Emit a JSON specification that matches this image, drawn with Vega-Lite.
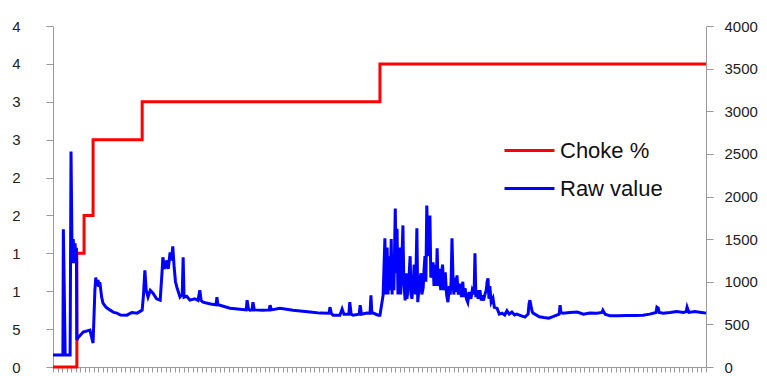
{
  "$schema": "https://vega.github.io/schema/vega-lite/v6.json",
  "width": 653,
  "height": 341,
  "autosize": {"type": "none"},
  "padding": {"left": 53, "top": 26, "right": 61, "bottom": 9},
  "background": "white",
  "config": {
    "view": {"stroke": null},
    "font": "Liberation Sans",
    "axis": {"grid": false, "domainColor": "#9a9a9a", "tickColor": "#9a9a9a", "labelColor": "#222222", "labelFont": "Liberation Sans", "labelFontSize": 15, "title": null}
  },
  "datasets": {
    "choke": [
      {"t": 0, "choke": 0},
      {"t": 53, "choke": 1.5},
      {"t": 69, "choke": 2},
      {"t": 89, "choke": 3},
      {"t": 198, "choke": 3.5},
      {"t": 726, "choke": 4},
      {"t": 1450, "choke": 4}
    ],
    "raw": [
      {"t": 0, "raw": 140}, {"t": 22, "raw": 140}, {"t": 23, "raw": 1615}, {"t": 25, "raw": 900}, {"t": 27, "raw": 140},
      {"t": 38, "raw": 140}, {"t": 40, "raw": 2527}, {"t": 42, "raw": 1500}, {"t": 44, "raw": 1217}, {"t": 45, "raw": 1500},
      {"t": 47, "raw": 1217}, {"t": 49, "raw": 1450}, {"t": 51, "raw": 1217}, {"t": 52, "raw": 1400}, {"t": 53, "raw": 316},
      {"t": 55, "raw": 340}, {"t": 67, "raw": 410}, {"t": 82, "raw": 433}, {"t": 89, "raw": 281}, {"t": 91, "raw": 585},
      {"t": 93, "raw": 900}, {"t": 95, "raw": 1050}, {"t": 97, "raw": 950}, {"t": 100, "raw": 1020}, {"t": 102, "raw": 940}, {"t": 104, "raw": 995}, {"t": 108, "raw": 820}, {"t": 111, "raw": 750},
      {"t": 118, "raw": 700}, {"t": 127, "raw": 667}, {"t": 135, "raw": 640}, {"t": 142, "raw": 632}, {"t": 150, "raw": 610}, {"t": 164, "raw": 608}, {"t": 175, "raw": 640}, {"t": 187, "raw": 632}, {"t": 198, "raw": 667},
      {"t": 201, "raw": 850}, {"t": 204, "raw": 1135}, {"t": 207, "raw": 900}, {"t": 211, "raw": 820}, {"t": 216, "raw": 900}, {"t": 222, "raw": 866}, {"t": 230, "raw": 800}, {"t": 238, "raw": 784}, {"t": 242, "raw": 1100}, {"t": 244, "raw": 1287},
      {"t": 248, "raw": 1150}, {"t": 253, "raw": 1250}, {"t": 256, "raw": 1150}, {"t": 260, "raw": 1345}, {"t": 263, "raw": 1250}, {"t": 266, "raw": 1416}, {"t": 269, "raw": 1170}, {"t": 272, "raw": 1000}, {"t": 275, "raw": 936},
      {"t": 282, "raw": 820}, {"t": 287, "raw": 850}, {"t": 289, "raw": 1287}, {"t": 291, "raw": 820}, {"t": 297, "raw": 830}, {"t": 304, "raw": 784}, {"t": 315, "raw": 800}, {"t": 322, "raw": 780}, {"t": 326, "raw": 900},
      {"t": 329, "raw": 780}, {"t": 333, "raw": 760}, {"t": 350, "raw": 740}, {"t": 362, "raw": 730}, {"t": 364, "raw": 820}, {"t": 366, "raw": 730}, {"t": 371, "raw": 725}, {"t": 393, "raw": 690}, {"t": 410, "raw": 680}, {"t": 429, "raw": 670}, {"t": 431, "raw": 784},
      {"t": 434, "raw": 680}, {"t": 437, "raw": 667}, {"t": 442, "raw": 670}, {"t": 444, "raw": 760}, {"t": 447, "raw": 670}, {"t": 466, "raw": 667}, {"t": 480, "raw": 670}, {"t": 482, "raw": 725}, {"t": 485, "raw": 670}, {"t": 504, "raw": 690},
      {"t": 533, "raw": 667}, {"t": 571, "raw": 644}, {"t": 593, "raw": 632}, {"t": 613, "raw": 630}, {"t": 615, "raw": 702}, {"t": 618, "raw": 630}, {"t": 622, "raw": 608},
      {"t": 637, "raw": 608}, {"t": 642, "raw": 680}, {"t": 646, "raw": 620}, {"t": 657, "raw": 620}, {"t": 659, "raw": 760}, {"t": 662, "raw": 620}, {"t": 666, "raw": 608}, {"t": 680, "raw": 620}, {"t": 682, "raw": 725}, {"t": 685, "raw": 620},
      {"t": 697, "raw": 632}, {"t": 704, "raw": 630}, {"t": 706, "raw": 842}, {"t": 708, "raw": 632}, {"t": 711, "raw": 632}, {"t": 722, "raw": 608}, {"t": 726, "raw": 608},
      {"t": 733, "raw": 842}, {"t": 737, "raw": 1509}, {"t": 739, "raw": 850}, {"t": 742, "raw": 1400}, {"t": 744, "raw": 850}, {"t": 746, "raw": 1300}, {"t": 749, "raw": 900}, {"t": 751, "raw": 1500}, {"t": 753, "raw": 850}, {"t": 755, "raw": 1300},
      {"t": 757, "raw": 900}, {"t": 760, "raw": 1860}, {"t": 762, "raw": 1100}, {"t": 764, "raw": 1620}, {"t": 766, "raw": 850}, {"t": 769, "raw": 1400}, {"t": 772, "raw": 850}, {"t": 775, "raw": 1300}, {"t": 777, "raw": 1661},
      {"t": 779, "raw": 1000}, {"t": 782, "raw": 780}, {"t": 784, "raw": 1100}, {"t": 786, "raw": 800}, {"t": 790, "raw": 1000}, {"t": 793, "raw": 1300}, {"t": 795, "raw": 850}, {"t": 797, "raw": 800}, {"t": 800, "raw": 1000}, {"t": 802, "raw": 1200},
      {"t": 805, "raw": 850}, {"t": 808, "raw": 1626}, {"t": 810, "raw": 760}, {"t": 813, "raw": 950}, {"t": 817, "raw": 1100}, {"t": 819, "raw": 850}, {"t": 822, "raw": 930}, {"t": 824, "raw": 1150}, {"t": 826, "raw": 1300},
      {"t": 828, "raw": 1000}, {"t": 830, "raw": 1895}, {"t": 833, "raw": 1300}, {"t": 835, "raw": 1500}, {"t": 837, "raw": 1778}, {"t": 839, "raw": 1050}, {"t": 842, "raw": 1100}, {"t": 844, "raw": 1228},
      {"t": 846, "raw": 950}, {"t": 848, "raw": 1200}, {"t": 851, "raw": 950}, {"t": 853, "raw": 1392}, {"t": 855, "raw": 950}, {"t": 858, "raw": 1150}, {"t": 861, "raw": 900}, {"t": 863, "raw": 1100}, {"t": 865, "raw": 1200},
      {"t": 868, "raw": 900}, {"t": 871, "raw": 1111}, {"t": 874, "raw": 850}, {"t": 877, "raw": 760}, {"t": 880, "raw": 950}, {"t": 882, "raw": 850}, {"t": 884, "raw": 1000}, {"t": 886, "raw": 1509}, {"t": 888, "raw": 1076},
      {"t": 890, "raw": 850}, {"t": 893, "raw": 1050}, {"t": 895, "raw": 880}, {"t": 897, "raw": 1076}, {"t": 900, "raw": 850}, {"t": 904, "raw": 978}, {"t": 907, "raw": 820}, {"t": 910, "raw": 1000}, {"t": 912, "raw": 820}, {"t": 915, "raw": 924},
      {"t": 918, "raw": 800}, {"t": 921, "raw": 760}, {"t": 924, "raw": 880}, {"t": 928, "raw": 800}, {"t": 931, "raw": 900}, {"t": 935, "raw": 850}, {"t": 937, "raw": 1334}, {"t": 939, "raw": 820}, {"t": 941, "raw": 900}, {"t": 944, "raw": 800}, {"t": 948, "raw": 900},
      {"t": 951, "raw": 780}, {"t": 953, "raw": 842}, {"t": 956, "raw": 780}, {"t": 959, "raw": 850}, {"t": 962, "raw": 900}, {"t": 964, "raw": 1000}, {"t": 966, "raw": 1041}, {"t": 968, "raw": 800}, {"t": 970, "raw": 950}, {"t": 973, "raw": 760}, {"t": 977, "raw": 807},
      {"t": 980, "raw": 700}, {"t": 986, "raw": 690}, {"t": 991, "raw": 620}, {"t": 997, "raw": 632}, {"t": 1003, "raw": 610}, {"t": 1008, "raw": 660}, {"t": 1013, "raw": 620}, {"t": 1019, "raw": 644}, {"t": 1025, "raw": 610}, {"t": 1030, "raw": 620},
      {"t": 1040, "raw": 600}, {"t": 1048, "raw": 585}, {"t": 1055, "raw": 620}, {"t": 1057, "raw": 740}, {"t": 1059, "raw": 784}, {"t": 1062, "raw": 700}, {"t": 1064, "raw": 650}, {"t": 1066, "raw": 632},
      {"t": 1080, "raw": 590}, {"t": 1090, "raw": 580}, {"t": 1101, "raw": 573}, {"t": 1110, "raw": 590}, {"t": 1124, "raw": 620}, {"t": 1126, "raw": 725}, {"t": 1128, "raw": 640}, {"t": 1132, "raw": 632},
      {"t": 1148, "raw": 640}, {"t": 1164, "raw": 645}, {"t": 1178, "raw": 620}, {"t": 1192, "raw": 632}, {"t": 1208, "raw": 630}, {"t": 1219, "raw": 640}, {"t": 1221, "raw": 667}, {"t": 1226, "raw": 620}, {"t": 1237, "raw": 600},
      {"t": 1255, "raw": 600}, {"t": 1275, "raw": 605}, {"t": 1292, "raw": 605}, {"t": 1310, "raw": 608}, {"t": 1325, "raw": 620}, {"t": 1339, "raw": 640}, {"t": 1341, "raw": 702}, {"t": 1344, "raw": 690}, {"t": 1346, "raw": 640}, {"t": 1355, "raw": 632},
      {"t": 1370, "raw": 640}, {"t": 1385, "raw": 650}, {"t": 1400, "raw": 640}, {"t": 1406, "raw": 650}, {"t": 1408, "raw": 702}, {"t": 1412, "raw": 640}, {"t": 1425, "raw": 650}, {"t": 1440, "raw": 640}, {"t": 1450, "raw": 632}
    ]
  },
  "layer": [
    {
      "data": {"name": "choke"},
      "mark": {"type": "line", "interpolate": "step-after", "strokeWidth": 3},
      "encoding": {
        "x": {"field": "t", "type": "quantitative", "scale": {"domain": [0, 1450], "nice": false}, "axis": {"tickCount": 150, "labels": false, "tickSize": 5, "domain": true}},
        "y": {"field": "choke", "type": "quantitative", "scale": {"domain": [0, 4.5], "nice": false}, "axis": {"orient": "left", "values": [0, 0.5, 1, 1.5, 2, 2.5, 3, 3.5, 4, 4.5], "tickSize": 7, "labelPadding": 26, "labelExpr": "datum.value == 0.5 ? '5' : '' + floor(datum.value)"}},
        "color": {"datum": "Choke %", "type": "nominal", "scale": {"domain": ["Choke %", "Raw value"], "range": ["#ff0000", "#0000ff"]},
          "legend": {"orient": "none", "legendX": 450, "legendY": 98, "title": null, "symbolType": "stroke", "symbolSize": 2500, "symbolStrokeWidth": 3, "labelFontSize": 22, "labelFont": "Liberation Sans", "labelColor": "#111111", "rowPadding": -17, "labelOffset": 4}}
      }
    },
    {
      "data": {"name": "raw"},
      "mark": {"type": "line", "strokeWidth": 3},
      "encoding": {
        "x": {"field": "t", "type": "quantitative", "scale": {"domain": [0, 1450], "nice": false}},
        "y": {"field": "raw", "type": "quantitative", "scale": {"domain": [0, 4000], "nice": false}, "axis": {"orient": "right", "format": "d", "values": [0, 500, 1000, 1500, 2000, 2500, 3000, 3500, 4000], "tickSize": 7, "labelPadding": 11}},
        "color": {"datum": "Raw value", "type": "nominal"}
      }
    }
  ],
  "resolve": {"scale": {"y": "independent"}}
}
